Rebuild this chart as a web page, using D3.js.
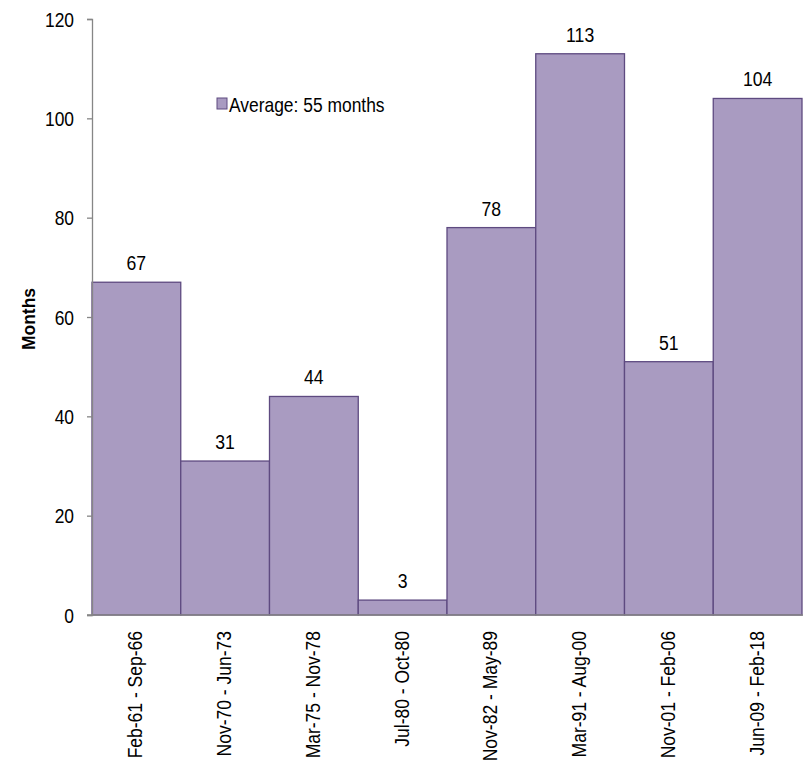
<!DOCTYPE html>
<html>
<head>
<meta charset="utf-8">
<script src="https://cdn.jsdelivr.net/npm/d3@7"></script>
<style>
  body { margin: 0; background: #fff; }
  svg text { font-family: "Liberation Sans", Arial, sans-serif; fill: #000; }
</style>
</head>
<body>
<svg id="chart" width="803" height="761"></svg>
<script>
// Expansion periods and their lengths in months
const periods = ["Feb-61 - Sep-66", "Nov-70 - Jun-73", "Mar-75 - Nov-78", "Jul-80 - Oct-80",
                 "Nov-82 - May-89", "Mar-91 - Aug-00", "Nov-01 - Feb-06", "Jun-09 - Feb-18"];
const months = [67, 31, 44, 3, 78, 113, 51, 104];
const yTicks = [0, 20, 40, 60, 80, 100, 120];
const legendText = "Average: 55 months";

const svg = d3.select("#chart");
const margin = { left: 92, right: 1, top: 19, bottom: 146 };
const W = 803, H = 761;
const FONT = "Liberation Sans, Arial, sans-serif";

const x = d3.scaleBand().domain(periods).range([margin.left, W - margin.right]).padding(0);
const y = d3.scaleLinear().domain([0, 120]).range([H - margin.bottom, margin.top]);

const fill = "#a99bc1", stroke = "#5e4a80", axisCol = "#868686";

// Bars
svg.append("g").selectAll("rect").data(months).join("rect")
  .attr("x", (d, i) => x(periods[i]))
  .attr("y", d => y(d))
  .attr("width", x.bandwidth())
  .attr("height", d => y(0) - y(d))
  .attr("fill", fill)
  .attr("stroke", stroke)
  .attr("stroke-width", 1.3);

// Value labels (slightly condensed lettering)
svg.append("g").selectAll("text").data(months).join("text")
  .attr("transform", (d, i) => `translate(${x(periods[i]) + x.bandwidth() / 2},${y(d) - 12}) scale(0.84,1)`)
  .attr("text-anchor", "middle")
  .attr("font-size", 21)
  .text(d => d);

// Y axis
const yAxis = svg.append("g")
  .attr("transform", `translate(${margin.left},0)`)
  .call(d3.axisLeft(y).tickValues(yTicks).tickSize(5));
yAxis.select(".domain").attr("stroke", axisCol).attr("stroke-width", 1.3);
yAxis.selectAll(".tick line").attr("stroke", axisCol).attr("stroke-width", 1.3);
yAxis.selectAll(".tick text")
  .attr("font-size", 20).attr("font-family", FONT).attr("fill", "#000")
  .attr("x", 0).attr("dy", "0.36em")
  .attr("transform", "translate(-18,0) scale(0.87,1)");

// X axis
const xAxis = svg.append("g")
  .attr("transform", `translate(0,${y(0)})`)
  .call(d3.axisBottom(x).tickSize(0).tickPadding(0));
xAxis.select(".domain").attr("d", `M${margin.left - 5},0H${W}`).attr("stroke", axisCol).attr("stroke-width", 1.3);
xAxis.selectAll(".tick text")
  .attr("font-size", 20)
  .attr("font-family", FONT)
  .attr("fill", "#000")
  .attr("text-anchor", "end")
  .attr("dy", null)
  .attr("x", 0).attr("y", 0)
  .attr("transform", "translate(6,16) rotate(-90) scale(0.875,1)");

// Y axis title
svg.append("text")
  .attr("transform", `translate(35,${(y(0) + y(120)) / 2 + 2}) rotate(-90) scale(0.92,1)`)
  .attr("text-anchor", "middle")
  .attr("font-size", 19)
  .attr("font-weight", "bold")
  .text("Months");

// Legend
const lg = svg.append("g").attr("transform", "translate(217,98)");
lg.append("rect").attr("width", 10).attr("height", 11)
  .attr("fill", fill).attr("stroke", stroke).attr("stroke-width", 1);
lg.append("text").attr("transform", "translate(12,13.7) scale(0.85,1)")
  .attr("font-size", 20.5).text(legendText);
</script>
</body>
</html>
